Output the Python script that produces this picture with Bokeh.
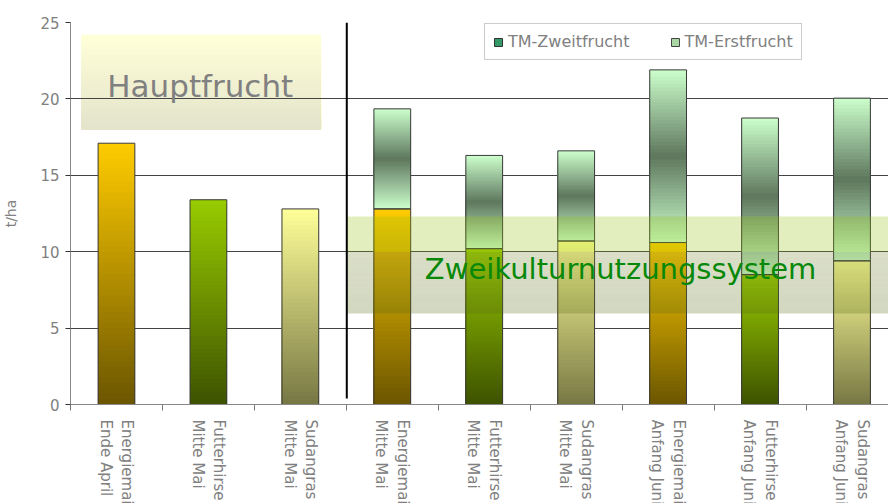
import numpy as np
from bokeh.plotting import figure
from bokeh.models import Range1d, FixedTicker, Legend, LegendItem, ColumnDataSource
from bokeh.core.properties import value
from bokeh.embed import file_html
from bokeh.resources import INLINE

# ---------------- data ----------------
crops = ["Energiemais", "Futterhirse", "Sudangras",
         "Energiemais", "Futterhirse", "Sudangras",
         "Energiemais", "Futterhirse", "Sudangras"]
dates = ["Ende April", "Mitte Mai", "Mitte Mai",
         "Mitte Mai", "Mitte Mai", "Mitte Mai",
         "Anfang Juni", "Anfang Juni", "Anfang Juni"]
tm_zweitfrucht = [17.1, 13.4, 12.8, 12.8, 10.2, 10.7, 10.6, 8.5, 9.4]
tm_erstfrucht = [0.0, 0.0, 0.0, 6.55, 6.1, 5.9, 11.3, 10.25, 10.65]
y_ticks = [0, 5, 10, 15, 20, 25]

# ---------------- styles ----------------
FONT = "DejaVu Sans"
GRAY = "#808080"
crop_grad = {  # (bottom colour, top colour)
    "Energiemais": ("#6B5500", "#FFCC00"),
    "Futterhirse": ("#3D5200", "#99CC00"),
    "Sudangras": ("#777744", "#FFFF99"),
}
ERST_LIGHT = "#CCFFCC"
ERST_DARK = "#5E775E"
BAR_W = 0.4
N = 48


def hex2rgb(h):
    h = h.lstrip("#")
    return np.array([int(h[i:i + 2], 16) for i in (0, 2, 4)], dtype=float)


def lerp(c1, c2, t):
    a, b = hex2rgb(c1), hex2rgb(c2)
    c = a + (b - a) * t
    return "#%02x%02x%02x" % tuple(int(round(v)) for v in c)


x_pos = list(range(len(crops)))

p = figure(width=888, height=538, x_range=Range1d(-0.5, 8.397), y_range=Range1d(0, 25),
           output_backend="svg", toolbar_location=None,
           min_border_left=62, min_border_right=0, min_border_top=22, min_border_bottom=134)
p.outline_line_color = None
p.background_fill_color = "white"

# ---- Hauptfrucht box (under grid) ----
hb_l, hb_r, hb_b, hb_t = -0.382, 2.225, 18.0, 24.2
hb = dict(left=[], right=[], bottom=[], top=[], color=[])
for k in range(N, 0, -1):
    f = k / N
    hb["left"].append(hb_l); hb["right"].append(hb_r)
    hb["bottom"].append(hb_b); hb["top"].append(hb_b + (hb_t - hb_b) * f)
    hb["color"].append(lerp("#E3E3CB", "#FFFFD8", f))
p.quad(left="left", right="right", bottom="bottom", top="top", fill_color="color",
       line_color=None, source=ColumnDataSource(hb), level="image")

# ---- bars with gradients ----
seg = dict(left=[], right=[], bottom=[], top=[], color=[])
outl = dict(left=[], right=[], bottom=[], top=[])
for i, x in enumerate(x_pos):
    v = tm_zweitfrucht[i]
    c_bot, c_top = crop_grad[crops[i]]
    for k in range(N, 0, -1):
        f = k / N
        seg["left"].append(x - BAR_W / 2); seg["right"].append(x + BAR_W / 2)
        seg["bottom"].append(0); seg["top"].append(v * f)
        seg["color"].append(lerp(c_bot, c_top, f - 0.5 / N))
    outl["left"].append(x - BAR_W / 2); outl["right"].append(x + BAR_W / 2)
    outl["bottom"].append(0); outl["top"].append(v)
    e = tm_erstfrucht[i]
    if e > 0:
        for k in range(N, 0, -1):
            f = k / N
            fm = f - 0.5 / N
            seg["left"].append(x - BAR_W / 2); seg["right"].append(x + BAR_W / 2)
            seg["bottom"].append(v); seg["top"].append(v + e * f)
            seg["color"].append(lerp(ERST_LIGHT, ERST_DARK, 1 - abs(2 * fm - 1)))
        outl["left"].append(x - BAR_W / 2); outl["right"].append(x + BAR_W / 2)
        outl["bottom"].append(v); outl["top"].append(v + e)
p.quad(left="left", right="right", bottom="bottom", top="top", fill_color="color",
       line_color=None, source=ColumnDataSource(seg))
p.quad(left="left", right="right", bottom="bottom", top="top", fill_color=None,
       line_color="#3a3a3a", line_width=1, source=ColumnDataSource(outl))

# ---- Zweikultur band (semi-transparent) ----
bd_l, bd_r, bd_b, bd_m, bd_t = 2.505, 8.45, 5.96, 10.0, 12.3
p.quad(left=[bd_l], right=[bd_r], bottom=[bd_m], top=[bd_t], fill_color="#97C012",
       fill_alpha=0.27, line_color=None)
M = 12
bl = dict(left=[], right=[], bottom=[], top=[], color=[])
for k in range(M):
    b0 = bd_b + (bd_m - bd_b) * k / M
    b1 = bd_b + (bd_m - bd_b) * (k + 1) / M
    bl["left"].append(bd_l); bl["right"].append(bd_r)
    bl["bottom"].append(b0); bl["top"].append(b1)
    bl["color"].append(lerp("#586B16", "#768530", (k + 0.5) / M))
p.quad(left="left", right="right", bottom="bottom", top="top", fill_color="color",
       fill_alpha=0.27, line_color=None, source=ColumnDataSource(bl))

# ---- separator line ----
p.segment(x0=[2.505], y0=[0.4], x1=[2.505], y1=[25], line_color="black", line_width=2)

# ---- texts ----
p.text(x=[0.911], y=[20.87], text=["Hauptfrucht"], text_font=value(FONT),
       text_font_size="31px", text_color=GRAY, text_align="center", text_baseline="alphabetic")
p.text(x=[5.483], y=[8.85], text=["Zweikulturnutzungssystem"], text_font=value(FONT),
       text_font_size="29px", text_color="#088808", text_align="center", text_baseline="alphabetic")

# ---- legend (sample glyphs kept outside the visible ranges) ----
r1 = p.quad(left=[-20], right=[-19], bottom=[-20], top=[-19], fill_color="#339966", line_color="#333333")
r2 = p.quad(left=[-20], right=[-19], bottom=[-20], top=[-19], fill_color="#A9D6A4", line_color="#444444")
legend = Legend(items=[LegendItem(label="TM-Zweitfrucht", renderers=[r1]),
                       LegendItem(label="TM-Erstfrucht", renderers=[r2])],
                location=(414, 344), orientation="horizontal",
                glyph_width=10, glyph_height=10, label_standoff=5, spacing=40,
                padding=8, margin=0,
                label_text_font=FONT, label_text_font_size="16px", label_text_color=GRAY,
                border_line_color="#999999", border_line_width=1, background_fill_alpha=1.0)
p.add_layout(legend)

# ---- axes ----
p.xgrid.visible = False
p.ygrid.grid_line_color = "#444444"
p.ygrid.ticker = FixedTicker(ticks=y_ticks)

yax = p.yaxis[0]
yax.ticker = FixedTicker(ticks=y_ticks)
yax.axis_label = "t/ha"
yax.axis_label_text_font = FONT
yax.axis_label_text_font_style = "normal"
yax.axis_label_text_font_size = "14px"
yax.axis_label_text_color = GRAY
yax.axis_label_standoff = 18
yax.major_label_text_font = FONT
yax.major_label_text_font_size = "15px"
yax.major_label_text_color = GRAY
yax.major_label_standoff = 6
yax.axis_line_color = "#888888"
yax.major_tick_line_color = "#333333"
yax.major_tick_in = 0
yax.major_tick_out = 5
yax.minor_tick_line_color = None

xax = p.xaxis[0]
xax.ticker = FixedTicker(ticks=x_pos, minor_ticks=[i - 0.5 for i in range(len(crops) + 1)])
xax.major_label_overrides = {i: crops[i] + "\n" + dates[i] for i in x_pos}
xax.major_label_orientation = -np.pi / 2
xax.major_label_text_font = FONT
xax.major_label_text_font_size = "15px"
xax.major_label_text_color = GRAY
xax.major_label_standoff = 9
xax.major_tick_line_color = None
xax.minor_tick_line_color = "#777777"
xax.minor_tick_in = 0
xax.minor_tick_out = 6
xax.axis_line_color = "#888888"

open("out.html", "w").write(file_html(p, INLINE))
